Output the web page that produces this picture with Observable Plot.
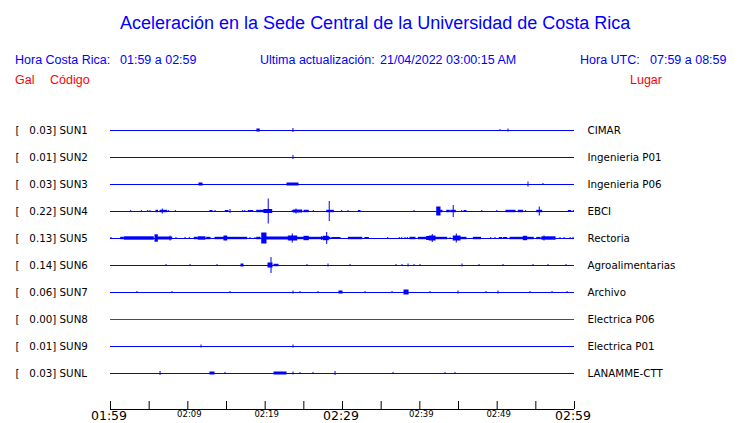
<!DOCTYPE html>
<html><head><meta charset="utf-8">
<script src="https://cdn.jsdelivr.net/npm/d3@7"></script>
<script src="https://cdn.jsdelivr.net/npm/@observablehq/plot@0.6"></script>
<style>
body{margin:0;background:#fff;}
#page{position:relative;width:740px;height:423px;overflow:hidden;font-family:"Liberation Sans",Arial,sans-serif;}
.h{position:absolute;white-space:pre;font-size:12.5px;line-height:1;color:#0000ff;}
.r{color:#ff0000;}
#title{position:absolute;left:120px;top:13.8px;font-size:18px;line-height:1;color:#0000ff;white-space:pre;}
#chart{position:absolute;left:0;top:95px;}
</style></head>
<body>
<div id="page">
  <div id="title">Aceleración en la Sede Central de la Universidad de Costa Rica</div>
  <span class="h" style="left:15px;top:54.4px">Hora Costa Rica:</span>
  <span class="h" style="left:120px;top:54.4px">01:59 a 02:59</span>
  <span class="h" style="left:260px;top:54.4px">Ultima actualización:</span>
  <span class="h" style="left:380px;top:54.4px">21/04/2022 03:00:15 AM</span>
  <span class="h" style="left:580px;top:54.4px">Hora UTC:</span>
  <span class="h" style="left:650px;top:54.4px">07:59 a 08:59</span>
  <span class="h r" style="left:15px;top:74.4px">Gal</span>
  <span class="h r" style="left:50px;top:74.4px">Código</span>
  <span class="h r" style="left:630px;top:74.4px">Lugar</span>
  <div id="chart"></div>
</div>
<script>
// Station codes, peak values (Gal) and places
const stations = ["SUN1","SUN2","SUN3","SUN4","SUN5","SUN6","SUN7","SUN8","SUN9","SUNL"];
const peaks = ["0.03","0.01","0.03","0.22","0.13","0.14","0.06","0.00","0.01","0.03"];
const places = ["CIMAR","Ingenieria P01","Ingenieria P06","EBCI","Rectoria","Agroalimentarias","Archivo","Electrica P06","Electrica P01","LANAMME-CTT"];
const traceColors = ["#0000ff","#0000ff","#0000ff","#0000ff","#0000ff","#0000ff","#0000ff","#ff0000","#0000ff","#0000ff"];

// Time axis: minutes after 01:59
const tickMinutes = [0,5,10,15,20,25,30,35,40,45,50,55,60];
const bigTicks = [0,30,60];
const bigLabels = ["01:59","02:29","02:59"];
const smallTicks = [10,20,40,50];
const smallLabels = ["02:09","02:19","02:39","02:49"];

// Bursts per trace: [start minute, end minute, half amplitude]
const sun1 = [[19.0,19.3,1.5],[23.66,23.66,2],[50.43,50.43,1],[51.47,51.47,1.5]];
const sun2 = [[23.66,23.66,2]];
const sun3 = [[11.51,11.9,1.5],[22.89,24.31,1.5],[54.05,54.05,2.5],[55.99,55.99,1]];
const sun4 = [[2.68,2.68,1],[4.05,4.05,1],[4.88,4.88,1],[5.17,5.17,1],[5.95,6.14,1.2],[6.47,7.33,1.2],[6.76,6.76,2.5],
  [7.54,7.54,1],[8.44,8.44,1],[12.93,13.19,1],[13.58,13.58,1],[14.91,15.26,1],[15.52,15.52,2],[17.16,17.16,1],[17.42,17.42,1],
  [17.88,18.45,1],[18.97,20.26,1.2],[19.91,20.91,2],[20.46,20.46,12.5],[23.57,23.57,1],[23.7,24.79,1.5],[24.05,24.05,2.5],
  [25.09,25.64,1.2],[26.29,26.29,1],[28.02,28.88,1.2],[28.35,28.35,10],[29.96,29.96,1],[30.78,30.78,1],[32.12,32.33,1],
  [39.31,39.31,1],[42.25,42.67,4.5],[42.67,42.93,1.2],[43.54,43.88,1.2],[44.06,44.65,1.2],[44.38,44.38,6],[45.47,45.47,1],
  [45.78,46.03,1],[48.07,48.07,1],[50.01,50.01,1],[51.21,52.37,1.2],[52.8,53.36,1.2],[53.74,53.74,1],[55.18,55.82,1.2],
  [55.51,55.51,4.5],[59.27,59.57,1],[59.91,59.91,1]];
const sun5 = [[0.13,0.13,1],[1.38,1.72,1.2],[1.85,5.6,1.7],[5.82,6.12,3.7],[6.12,7.98,1.5],[7.76,7.76,2.5],[8.53,8.53,1],
  [9.7,9.7,1],[10.25,10.25,1],[10.9,11.29,1.2],[11.42,12.29,1.7],[12.5,12.93,1.2],[13.58,14.74,1.2],[14.74,15.09,2.5],
  [15.09,17.68,1.2],[18.1,18.1,1],[18.75,18.75,1],[18.97,19.4,1.2],[19.62,20.17,5.5],[20.17,23.06,1.5],[23.06,24.14,2.5],
  [23.57,23.57,4.5],[24.14,25.09,1.2],[25.09,25.64,2.2],[25.64,28.45,1.2],[27.37,27.37,2],[27.58,28.23,2.2],[28.02,28.02,6],
  [28.67,29.74,1],[30.82,32.55,1.2],[32.98,33.41,1],[35.91,35.91,1],[37.41,37.41,1],[37.72,37.72,1],[38.15,38.15,1],
  [38.45,38.45,1],[38.79,39.44,1.2],[39.87,40.95,1.2],[40.95,41.28,2],[41.28,42.03,2.5],[41.67,41.67,4],[42.03,43.54,1.2],
  [43.97,43.97,1],[44.39,45.26,2.5],[44.78,44.78,4.5],[45.26,46.03,1.2],[46.98,47.92,1.2],[49.23,49.23,1],[49.79,49.79,1],
  [50.34,50.64,1],[50.86,51.3,1],[51.73,53.44,1.2],[53.44,53.88,2.2],[53.88,54.73,1.2],[55.18,55.61,1.1],[55.83,57.55,1.7],
  [56.12,56.12,2.5],[58.19,58.19,1],[58.71,58.71,1],[59.49,59.49,1],[59.87,59.87,1.2]];
const sun6 = [[7.24,7.24,1],[10.35,10.35,1],[13.84,13.84,1],[16.94,17.2,1.5],[20.43,20.95,2.5],[20.82,20.82,8],[21.21,21.73,1.2],
  [25.47,25.47,1],[28.19,28.19,1.5],[31.04,31.04,1],[36.98,36.98,1],[37.76,37.76,1],[38.54,38.54,1.5],[39.31,39.31,1],
  [40.09,40.09,1],[45.52,45.52,1.5],[47.72,47.72,1],[50.82,50.82,1],[54.7,54.7,1],[56.64,56.64,1],[58.97,58.97,1]];
const sun7 = [[3.49,3.49,1],[8.02,8.02,1],[15.52,15.52,1],[23.66,23.66,1.5],[24.57,24.57,1],[26.9,26.9,1],[29.61,30.0,1.5],
  [32.98,32.98,1],[36.47,36.47,1],[38.02,38.54,2.5],[41.38,41.38,1],[45.0,45.0,1.5],[48.62,48.62,1],[50.17,50.17,1.5],
  [54.31,54.31,1],[57.16,57.16,1],[59.1,59.1,1]];
const sun8 = [];
const sun9 = [[11.77,11.77,1.5],[23.66,23.66,1.5]];
const sunL = [[6.47,6.47,2],[12.93,13.45,1.5],[14.87,14.87,1],[21.21,22.76,1.5],[23.66,23.66,1.5],[24.57,24.57,1],
  [26.25,26.25,1],[29.1,29.1,2],[36.6,36.6,1],[43.32,43.32,1],[44.61,44.61,1]];
const traces = [sun1,sun2,sun3,sun4,sun5,sun6,sun7,sun8,sun9,sunL];
const ampPerRow = 27; // amplitude units per trace spacing

const rows = stations.map((s,i)=>({i, label:`[   ${peaks[i]}] ${s}`, place:places[i], color:traceColors[i]}));
const bursts = traces.flatMap((ev,i)=>ev.map(([t1,t2,a])=>({i,t1,t2,a,color:traceColors[i]})));
const yBottom = 10 + 1/3;

const chart = Plot.plot({
  width:740, height:328, marginTop:8, marginBottom:14, marginLeft:110, marginRight:166,
  x:{domain:[0,60], axis:null},
  y:{domain:[-1, yBottom], reverse:true, axis:null},
  color:{type:"identity"},
  style:{fontFamily:"'DejaVu Sans'", fontSize:"10.3px", color:"black", background:"white", whiteSpace:"pre"},
  marks:[
    Plot.ruleY(rows,{y:"i", x1:0, x2:60, stroke:"color", strokeWidth:1.2}),
    Plot.rect(bursts,{x1:"t1", x2:"t2", y1:d=>d.i - d.a/ampPerRow, y2:d=>d.i + d.a/ampPerRow, fill:"color",
      insetLeft:-0.5, insetRight:-0.5}),
    Plot.text(rows,{y:"i", text:"label", frameAnchor:"left", textAnchor:"start", dx:-95, fill:"black"}),
    Plot.text(rows,{y:"i", text:"place", frameAnchor:"right", textAnchor:"start", dx:13, fill:"black"}),
    Plot.ruleY([yBottom],{stroke:"black", strokeWidth:1.2}),
    Plot.tickX(tickMinutes,{x:d=>d, insetTop:298, stroke:"black"}),
    Plot.axisX(bigTicks,{tickSize:0, tickPadding:1.5, fontSize:12.5, dx:-1.5, tickFormat:d=>bigLabels[bigTicks.indexOf(d)]}),
    Plot.axisX(smallTicks,{tickSize:0, tickPadding:1.8, fontSize:8.5, dx:1.5, tickFormat:d=>smallLabels[smallTicks.indexOf(d)]})
  ]
});
document.getElementById("chart").appendChild(chart);
</script>
</body></html>
